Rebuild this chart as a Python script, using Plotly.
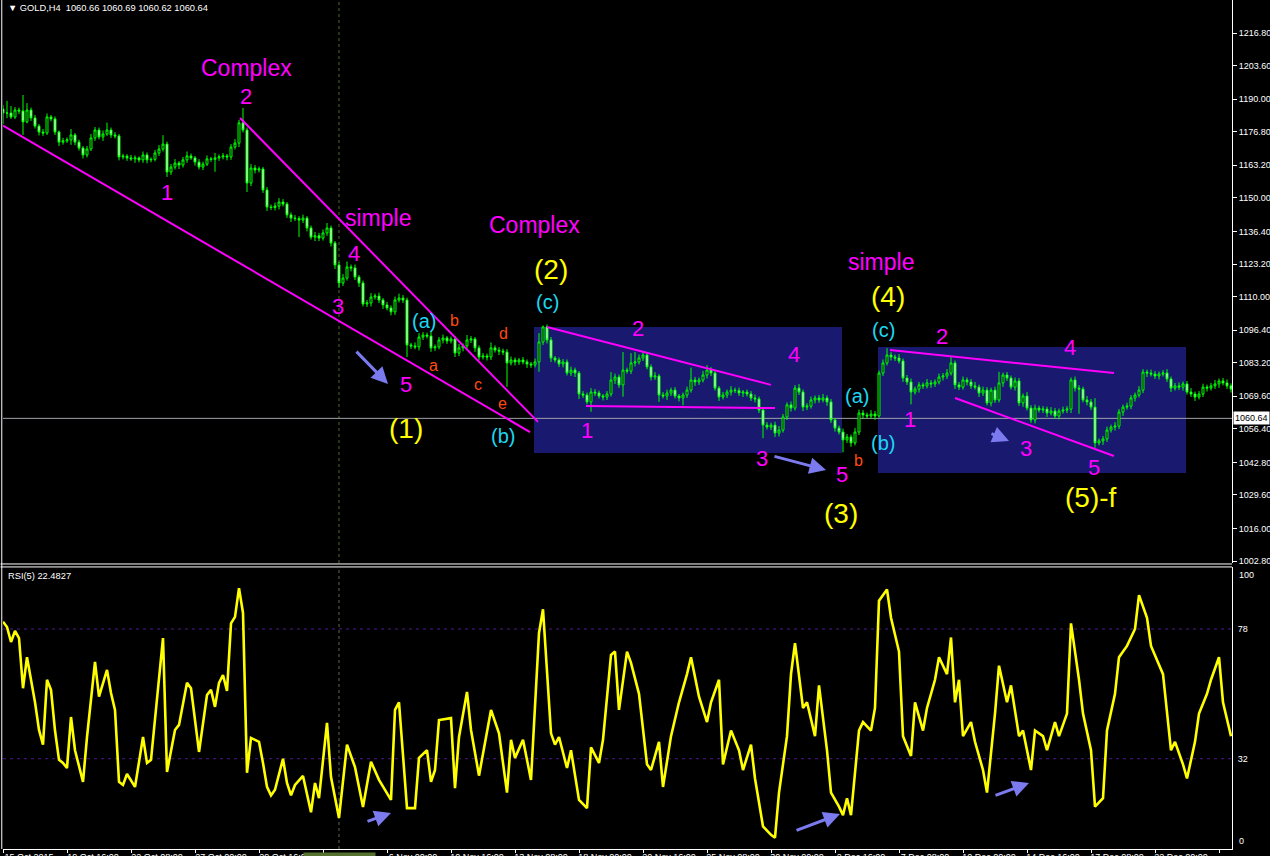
import plotly.graph_objects as go

# ---------------- data ----------------
closes = [
1184.4,1184.4,1182.8,1185.6,1185.2,1180.8,1185.6,1182.4,1179.1,1176.7,
1176.3,1182.8,1182.0,1176.7,1172.6,1173.1,1173.5,1175.5,1172.6,1170.2,
1167.4,1169.8,1174.3,1177.5,1174.7,1175.9,1177.5,1175.5,1175.1,1166.6,
1166.9,1166.2,1165.8,1166.2,1165.4,1167.4,1165.4,1165.6,1168.2,1169.8,
1171.8,1160.5,1162.5,1164.1,1163.3,1165.4,1167.0,1166.2,1164.5,1162.5,
1163.7,1165.8,1165.6,1166.2,1166.6,1167.0,1166.6,1170.6,1172.2,1180.4,
1177.5,1156.0,1162.1,1161.3,1161.7,1153.2,1146.3,1146.1,1146.7,1148.3,
1147.5,1143.1,1141.8,1141.6,1141.0,1141.8,1137.8,1134.1,1134.6,1133.7,
1135.8,1137.8,1131.7,1122.8,1115.5,1117.5,1122.0,1121.6,1117.9,1115.5,
1107.0,1107.4,1109.8,1110.2,1108.6,1106.6,1105.4,1103.8,1108.6,1109.4,
1108.6,1090.4,1090.0,1089.6,1093.6,1094.4,1094.0,1089.2,1089.6,1092.4,
1093.2,1092.0,1092.8,1087.1,1089.2,1090.0,1092.4,1092.8,1089.2,1085.5,
1085.9,1085.5,1089.2,1088.3,1087.9,1087.5,1083.1,1084.3,1083.5,1084.3,
1083.5,1082.7,1082.3,1083.5,1091.6,1097.7,1092.4,1085.1,1084.3,1082.7,
1083.5,1079.0,1080.2,1079.0,1070.5,1070.1,1067.3,1071.3,1070.9,1069.7,
1069.3,1070.5,1076.2,1077.4,1074.2,1080.2,1079.8,1083.1,1083.5,1085.1,
1086.3,1081.5,1077.4,1077.8,1070.1,1069.7,1070.9,1072.1,1069.7,1068.9,
1070.1,1072.1,1076.2,1075.4,1076.2,1078.2,1080.2,1079.0,1072.9,1069.3,
1070.1,1071.3,1072.1,1071.9,1070.9,1071.3,1070.5,1068.9,1068.5,1064.0,
1057.9,1057.1,1057.9,1054.7,1055.9,1061.2,1066.1,1064.8,1072.9,1071.3,
1065.2,1065.6,1068.1,1068.9,1068.1,1068.9,1067.3,1060.0,1056.7,1055.1,
1051.9,1053.1,1050.7,1055.1,1062.8,1062.0,1061.6,1062.4,1061.6,1079.0,
1083.1,1086.3,1085.5,1085.1,1083.9,1077.0,1075.4,1071.3,1072.5,1074.2,
1073.8,1075.0,1074.6,1075.4,1077.4,1077.8,1079.0,1083.1,1074.2,1073.3,
1076.2,1075.4,1073.8,1073.3,1070.9,1072.1,1066.9,1072.1,1068.1,1075.0,
1078.2,1077.0,1073.3,1075.8,1066.9,1069.7,1064.8,1060.0,1064.8,1064.0,
1064.4,1062.8,1063.6,1061.6,1063.6,1064.0,1064.4,1076.2,1072.9,1072.5,
1068.1,1067.3,1065.2,1050.7,1051.5,1052.3,1055.9,1057.1,1057.5,1063.2,
1065.2,1065.6,1068.9,1070.1,1072.1,1079.4,1079.0,1078.6,1077.8,1078.6,
1079.0,1076.6,1072.9,1073.8,1073.3,1074.6,1071.3,1070.5,1069.3,1070.5,
1073.3,1072.9,1073.8,1074.6,1075.8,1075.0,1073.8,1072.5]
first_open = 1186.0

# wick length above the body / below the body (price units)
wick_up = [
1.6,4.9,2.8,1.2,1.0,6.5,2.8,1.0,1.2,0.8,1.2,1.4,0.8,1.0,0.6,1.2,1.0,2.4,0.8,1.0,
0.8,1.2,1.6,1.2,1.0,1.4,3.0,1.0,1.2,0.8,1.0,0.8,1.2,1.0,0.6,1.4,1.0,0.8,1.2,1.6,
3.6,1.0,1.2,1.6,0.8,1.2,1.8,1.0,0.8,1.2,1.0,1.4,0.8,2.0,1.0,1.2,0.8,1.2,1.6,1.2,
6.0,1.0,1.6,1.2,1.0,0.8,1.2,1.0,1.4,1.6,1.2,0.8,1.0,1.2,1.0,1.4,0.8,1.0,1.6,1.2,
1.4,2.0,1.0,0.8,1.2,1.6,2.2,1.0,1.4,0.8,1.0,1.2,1.6,1.0,1.4,0.8,1.2,1.0,1.4,1.8,
1.2,1.0,0.8,1.4,1.6,1.2,1.0,2.0,1.0,1.2,1.4,0.8,1.0,1.2,1.6,1.0,2.0,1.2,0.8,1.0,
1.2,1.0,2.2,1.0,1.2,1.0,1.2,1.4,1.0,0.8,1.2,1.0,0.8,1.4,3.6,0.6,1.0,1.2,0.8,1.0,
1.2,1.0,1.4,1.0,0.8,1.2,1.0,1.6,1.2,1.0,0.8,1.2,3.2,1.4,1.0,7.3,1.0,4.0,4.0,1.4,
1.0,1.2,1.0,1.6,0.8,1.2,1.4,1.0,1.2,0.8,1.0,1.4,5.0,1.2,1.0,1.6,2.0,1.2,1.0,0.8,
1.2,1.0,1.6,1.0,1.2,0.8,1.0,1.2,1.4,1.0,0.8,1.2,1.0,1.4,1.6,1.2,1.0,1.4,1.2,1.6,
1.0,1.2,1.4,1.0,1.2,1.6,1.0,1.2,0.8,1.0,1.4,1.2,1.0,1.6,1.4,1.2,1.0,1.6,1.2,1.0,
1.4,2.8,1.2,1.0,1.6,1.0,1.2,1.4,1.0,1.2,1.0,1.6,1.2,1.0,1.4,1.2,1.6,2.4,1.0,1.2,
1.4,1.0,1.2,1.6,1.0,1.4,1.2,1.0,1.4,4.5,1.0,1.2,1.0,1.4,1.2,1.0,1.6,1.2,1.4,1.0,
1.2,1.0,1.6,1.2,1.0,1.4,1.2,1.0,1.4,1.2,1.0,1.6,1.2,3.6,1.0,1.2,1.4,1.0,1.6,1.2,
1.0,1.4,1.2,1.0,1.6,1.2,1.0,1.4,1.2,1.0,1.2,1.6,1.0,1.2,1.4,1.0,1.2,1.6,1.0,1.2,
1.4,1.0,1.2,1.6,1.0,1.2,1.4,1.0]
wick_dn = [
4.5,2.0,0.8,0.8,1.2,5.3,0.6,1.2,1.0,1.4,1.2,0.8,1.0,1.2,1.6,1.0,0.8,2.0,1.2,1.0,
1.4,1.0,0.8,1.2,1.0,1.6,0.8,1.2,1.0,1.4,1.0,1.2,0.8,1.6,1.0,1.2,1.4,1.0,0.8,1.2,
1.0,2.0,1.2,1.0,1.6,1.0,1.2,0.8,1.4,1.0,1.2,0.8,1.0,5.0,1.2,1.0,1.4,1.2,1.0,1.6,
1.0,3.6,1.2,1.4,1.0,1.2,1.6,1.0,1.2,1.4,1.0,1.2,1.6,1.0,6.9,1.2,1.4,1.0,1.6,1.2,
1.0,1.2,1.4,1.6,2.0,1.2,1.0,1.4,1.2,1.6,1.0,1.2,1.4,1.0,1.2,1.6,1.0,1.4,1.2,1.0,
1.2,4.9,1.2,1.0,1.4,1.2,1.0,1.6,1.2,1.0,1.4,1.2,1.0,1.6,1.2,1.4,1.0,1.2,1.6,1.2,
1.0,1.4,1.2,1.0,1.6,1.2,9.7,1.0,1.4,1.2,1.0,1.6,1.2,1.0,4.0,1.2,1.4,1.6,1.0,1.2,
1.4,1.0,1.2,1.6,2.0,1.2,1.0,4.0,1.2,1.0,1.4,1.2,1.0,1.6,1.2,4.8,1.0,1.2,1.4,1.0,
1.2,1.0,1.4,1.2,2.8,1.0,1.6,1.2,1.0,1.4,3.0,1.2,1.0,1.6,1.2,1.0,1.4,1.2,1.0,1.6,
1.0,1.2,1.4,1.0,1.2,1.6,1.0,1.2,1.4,1.2,5.3,1.0,1.2,1.6,1.4,1.0,1.2,1.4,1.0,1.2,
1.6,1.2,1.0,1.4,1.2,1.0,1.6,1.2,1.4,1.0,5.0,1.2,1.6,1.0,1.2,1.4,1.0,1.2,1.6,0.6,
1.2,1.0,1.4,1.2,1.0,1.6,1.2,5.0,1.0,1.4,1.2,1.0,1.6,1.2,1.0,1.4,1.2,1.0,1.6,1.2,
1.0,1.4,1.2,1.0,1.6,1.2,1.0,1.4,1.2,1.0,1.6,1.2,1.0,1.4,1.2,1.6,1.0,1.2,1.4,1.0,
1.2,1.6,1.0,1.2,1.4,1.0,1.2,1.6,1.4,10.0,1.0,1.4,1.2,2.0,1.0,1.6,1.2,1.0,1.4,1.2,
1.6,1.0,1.2,1.4,1.0,1.2,1.6,1.0,1.2,1.4,1.0,1.2,1.6,1.0,1.2,1.4,1.0,1.2,1.6,1.0,
1.2,1.4,1.0,1.2,1.6,1.0,1.2,1.4]

# RSI(5): (bar index, value) at the line's vertices
rsi_points = [
(0,80.6),(1,78.7),(2,73.4),(3,77.3),(4,74.8),(5,57.0),(6,68.0),(7,60.0),(8,52.0),(9,42.2),
(10,37.0),(11,60.0),(12,56.4),(13,42.0),(14,31.6),(15,30.5),(16,28.7),(17,46.8),(18,35.0),
(20,23.8),(21,39.7),(23,66.3),(24,54.0),(26,63.5),(27,55.3),(28,49.3),(29,23.8),(30,22.7),
(31,26.6),(33,22.0),(35,39.7),(36,30.5),(37,31.6),(40,74.8),(41,27.3),(43,42.2),(44,44.0),
(46,58.9),(47,57.0),(49,34.4),(51,54.6),(52,56.4),(53,50.4),(54,58.9),(55,61.7),(56,56.0),
(57,80.0),(58,82.3),(59,92.5),(60,83.7),(61,27.0),(62,39.4),(64,38.0),(65,30.5),(66,22.0),
(67,19.0),(68,21.0),(70,32.0),(71,23.4),(72,19.0),(73,22.7),(75,25.9),(77,13.0),(78,23.4),
(79,18.0),(81,44.7),(82,25.5),(84,11.0),(86,37.0),(88,29.0),(90,14.9),(92,30.9),(94,24.5),
(97,17.4),(98,49.3),(99,52.0),(100,34.0),(101,14.5),(103,14.5),(104,32.3),(106,35.0),
(107,23.8),(108,28.0),(109,45.7),(112,46.4),(113,21.6),(114,39.7),(116,55.7),(117,42.2),
(119,26.0),(122,49.3),(124,41.0),(126,20.0),(127,38.7),(128,32.3),(130,38.7),(132,24.5),
(134,76.6),(135,85.0),(137,41.0),(138,37.0),(139,39.7),(141,28.7),(142,35.0),(144,17.4),
(146,14.5),(147,36.0),(149,30.5),(150,38.7),(152,68.8),(153,70.0),(154,49.3),
(156,70.0),(157,66.0),(159,55.0),(161,30.0),(162,28.0),(164,38.0),(165,22.0),(167,40.0),
(169,52.0),(171,62.0),(172,68.0),(174,54.0),(176,45.0),(177,52.0),(179,60.0),(180,30.0),
(182,42.0),(184,35.0),(185,28.0),(187,37.0),(188,25.0),(190,8.0),(192,5.0),(193,4.0),
(194,20.0),(196,40.0),(197,62.0),(198,73.0),(200,50.0),(201,52.0),(203,40.0),(204,58.0),
(206,35.0),(207,20.0),(209,15.0),(210,12.0),(211,18.0),(212,12.0),(214,42.0),(215,45.0),
(217,42.0),(218,50.0),(219,88.0),(221,92.0),(222,82.0),(224,70.0),(225,40.0),(227,33.0),
(228,52.0),(230,42.0),(231,50.0),(233,60.0),(234,68.0),(236,62.0),(237,75.0),(238,52.0),
(239,60.0),(240,40.0),(242,45.0),(243,38.0),(245,28.0),(246,20.0),(248,48.0),(249,65.0),
(251,52.0),(252,58.0),(254,40.0),(255,42.0),(257,28.0),(258,42.0),(260,40.0),(261,35.0),
(263,45.0),(264,40.0),(266,48.0),(267,80.0),(269,60.0),(270,48.0),(272,35.0),(273,15.0),
(275,18.0),(276,42.0),(278,55.0),(279,68.0),(281,72.0),(283,78.0),(284,90.0),(286,82.0),
(287,72.0),(289,65.0),(290,62.0),(292,35.0),(293,38.0),(295,30.0),(296,25.0),(298,38.0),
(299,48.0),(301,55.0),(302,60.0),(304,68.0),(305,52.0),(307,40.0)]

price_ticks = [1002.80, 1016.00, 1029.60, 1042.80, 1056.40, 1069.60, 1083.20, 1096.40, 1110.00,
               1123.20, 1136.40, 1150.00, 1163.20, 1176.80, 1190.00, 1203.60, 1216.80]
rsi_levels = [32, 78]
bid_price = 1060.64
time_tick_bars = [0, 16, 32, 48, 64, 80, 96, 112, 128, 144, 160, 176, 192, 208, 224, 240, 256, 272, 288, 304]
time_tick_labels = ["15 Oct 2015", "19 Oct 16:00", "22 Oct 08:00", "27 Oct 00:00", "29 Oct 16:00",
                    "3 Nov 08:00", "6 Nov 00:00", "10 Nov 16:00", "13 Nov 08:00", "18 Nov 00:00",
                    "20 Nov 16:00", "25 Nov 08:00", "30 Nov 00:00", "2 Dec 16:00", "7 Dec 08:00",
                    "10 Dec 00:00", "14 Dec 16:00", "17 Dec 08:00", "22 Dec 00:00", "24 Dec 16:00"]
cursor_bar = 84
cursor_label = "2015.11.04 00:00"

# wave labels: (text, bar, price, colour, size)
MAG, YEL, CYA, ORA = "#FF00FF", "#FFFF00", "#1ED6F0", "#FF4A10"
wave_labels = [
    ("Complex", 60.75, 1202.6, MAG, 23), ("2", 60.75, 1190.9, MAG, 22), ("1", 41.0, 1152.0, MAG, 22),
    ("simple", 93.75, 1141.8, MAG, 23), ("4", 87.75, 1127.3, MAG, 22), ("3", 83.75, 1105.8, MAG, 22),
    ("5", 100.75, 1074.2, MAG, 22), ("Complex", 132.75, 1139.0, MAG, 23), ("2", 158.75, 1096.9, MAG, 22),
    ("4", 197.75, 1086.7, MAG, 22), ("1", 146.0, 1055.9, MAG, 22), ("3", 189.75, 1044.2, MAG, 22),
    ("5", 209.75, 1037.7, MAG, 22), ("simple", 219.5, 1124.0, MAG, 23), ("2", 234.75, 1094.0, MAG, 22),
    ("4", 266.75, 1089.2, MAG, 22), ("1", 226.75, 1060.0, MAG, 22), ("3", 255.75, 1048.6, MAG, 22),
    ("5", 272.75, 1040.9, MAG, 22),
    ("(2)", 137.0, 1120.8, YEL, 28), ("(4)", 221.25, 1110.2, YEL, 28), ("(1)", 100.75, 1056.7, YEL, 28),
    ("(3)", 209.5, 1021.9, YEL, 28), ("(5)-f", 272.0, 1028.4, YEL, 28),
    ("(c)", 136.0, 1107.8, CYA, 20), ("(a)", 105.25, 1100.1, CYA, 20), ("(b)", 125.0, 1053.5, CYA, 20),
    ("(a)", 213.5, 1069.7, CYA, 20), ("(b)", 220.0, 1050.7, CYA, 20), ("(c)", 220.0, 1096.5, CYA, 20),
    ("b", 112.75, 1100.5, ORA, 16), ("d", 125.0, 1095.2, ORA, 16), ("a", 107.5, 1081.9, ORA, 16),
    ("c", 118.75, 1074.2, ORA, 16), ("e", 124.75, 1066.5, ORA, 16), ("b", 213.75, 1043.4, ORA, 16),
]
# trend lines: (bar0, price0, bar1, price1)
trend_lines = [
    (0.0, 1179.3, 131.75, 1055.1), (59.25, 1182.4, 133.75, 1059.2),
    (136.0, 1097.7, 192.0, 1074.2), (145.75, 1065.6, 193.0, 1064.8),
    (221.75, 1088.3, 277.75, 1079.0), (238.0, 1068.9, 277.75, 1045.4),
]
# boxes: (bar0, bar1, price_low, price_high)
boxes = [(132.75, 209.75, 1046.6, 1097.7), (218.75, 295.75, 1038.5, 1089.6)]
# arrows in price pane: (tail bar, tail price, head bar, head price)
price_arrows = [(88.0, 1088.3, 96.25, 1074.6), (192.5, 1045.4, 205.75, 1039.7), (246.75, 1054.7, 251.5, 1051.5)]
rsi_arrows = [(90.75, 9.6, 97.0, 12.8), (198.0, 6.4, 209.25, 12.4), (247.75, 18.8, 256.5, 23.4)]

# ---------------- build ----------------
n = len(closes)
bars = list(range(n))
opens = [first_open] + closes[:-1]
highs = [max(o, c) + u for o, c, u in zip(opens, closes, wick_up)]
lows = [min(o, c) - d for o, c, d in zip(opens, closes, wick_dn)]
rsi_x = [p[0] for p in rsi_points]
rsi_y = [p[1] for p in rsi_points]

FONT = "Liberation Sans, Arial, sans-serif"
XR = [0, 307.25]
PRICE_DOM = [0.3376, 1.0]
RSI_DOM = [0.0012, 0.333]

fig = go.Figure()
fig.add_trace(go.Candlestick(
    x=bars, open=opens, high=highs, low=lows, close=closes, xaxis="x", yaxis="y",
    increasing=dict(line=dict(color="#00FF00", width=1), fillcolor="#000000"),
    decreasing=dict(line=dict(color="#00FF00", width=1), fillcolor="#FFFFFF"),
    whiskerwidth=0, showlegend=False, hoverinfo="skip"))
fig.add_trace(go.Scatter(x=rsi_x, y=rsi_y, xaxis="x2", yaxis="y2", mode="lines",
                         line=dict(color="#FFFF00", width=2.6), showlegend=False, hoverinfo="skip"))

shapes = []
for b0, b1, lo, hi in boxes:
    shapes.append(dict(type="rect", xref="x", yref="y", x0=b0, x1=b1, y0=lo, y1=hi,
                       fillcolor="#191970", line=dict(width=0), layer="below"))
shapes.append(dict(type="line", xref="x", yref="y", x0=XR[0], x1=XR[1], y0=bid_price, y1=bid_price,
                   line=dict(color="#A0A0A8", width=1), layer="below"))
shapes.append(dict(type="line", xref="x", yref="paper", x0=cursor_bar, x1=cursor_bar,
                   y0=PRICE_DOM[0], y1=PRICE_DOM[1], line=dict(color="#4E6B2A", width=1, dash="3px,3px"), layer="below"))
shapes.append(dict(type="line", xref="x2", yref="paper", x0=cursor_bar, x1=cursor_bar,
                   y0=RSI_DOM[0], y1=RSI_DOM[1], line=dict(color="#5E6B45", width=1, dash="3px,3px"), layer="below"))
for lv in rsi_levels:
    shapes.append(dict(type="line", xref="x2", yref="y2", x0=XR[0], x1=XR[1], y0=lv, y1=lv,
                       line=dict(color="#4B1A8A", width=1, dash="3px,4px"), layer="below"))
for b0, p0, b1, p1 in trend_lines:
    shapes.append(dict(type="line", xref="x", yref="y", x0=b0, y0=p0, x1=b1, y1=p1,
                       line=dict(color=MAG, width=2)))
# window frame lines
shapes.append(dict(type="line", xref="paper", yref="paper", x0=-0.001, x1=-0.001, y0=RSI_DOM[0], y1=1.0,
                   line=dict(color="#FFFFFF", width=1)))
for yy in (0.3365, 0.3330):
    shapes.append(dict(type="line", xref="paper", yref="paper", x0=-0.002, x1=1.0, y0=yy, y1=yy,
                       line=dict(color="#FFFFFF", width=1)))

ann = []
for txt, bx, py, col, sz in wave_labels:
    ann.append(dict(text=txt, x=bx, y=py, xref="x", yref="y", showarrow=False,
                    font=dict(family=FONT, size=sz, color=col), xanchor="center", yanchor="middle"))
for tb, tp, hb, hp in price_arrows:
    ann.append(dict(x=hb, y=hp, ax=tb, ay=tp, xref="x", yref="y", axref="x", ayref="y", text="",
                    showarrow=True, arrowhead=2, arrowsize=1.1, arrowwidth=3, arrowcolor="#7B7BEF"))
for tb, tp, hb, hp in rsi_arrows:
    ann.append(dict(x=hb, y=hp, ax=tb, ay=tp, xref="x2", yref="y2", axref="x2", ayref="y2", text="",
                    showarrow=True, arrowhead=2, arrowsize=1.1, arrowwidth=3, arrowcolor="#7B7BEF"))
ann.append(dict(text="\u25BC\u00a0GOLD,H4\u00a0\u00a01060.66\u00a01060.69\u00a01060.62\u00a01060.64",
                xref="paper", yref="paper", x=0, y=1, xanchor="left", yanchor="top", xshift=3, yshift=-1,
                showarrow=False, font=dict(family=FONT, size=9.3, color="#FFFFFF")))
ann.append(dict(text="RSI(5)\u00a022.4827", xref="paper", yref="paper", x=0, y=RSI_DOM[1],
                xanchor="left", yanchor="top", xshift=3, yshift=-2,
                showarrow=False, font=dict(family=FONT, size=9.3, color="#FFFFFF")))
ann.append(dict(text=f"{bid_price:.2f}", xref="paper", yref="y", x=1, y=bid_price, xanchor="left",
                yanchor="middle", xshift=1, showarrow=False, bgcolor="#FFFFFF", borderpad=1,
                font=dict(family=FONT, size=9, color="#000000")))
ann.append(dict(text="1230.40", xref="paper", yref="y", x=1, y=1230.4, xanchor="left", yanchor="middle",
                xshift=6, showarrow=False, font=dict(family=FONT, size=9, color="#FFFFFF")))
ann.append(dict(text="100", xref="paper", yref="y2", x=1, y=100, xanchor="left", yanchor="top",
                xshift=5, yshift=-1, showarrow=False, font=dict(family=FONT, size=9, color="#FFFFFF")))
ann.append(dict(text="0", xref="paper", yref="y2", x=1, y=0, xanchor="left", yanchor="bottom",
                xshift=5, yshift=1, showarrow=False, font=dict(family=FONT, size=9, color="#FFFFFF")))
ann.append(dict(text=cursor_label, xref="x2", yref="paper", x=cursor_bar, y=0, xanchor="center",
                yanchor="top", yshift=-2, showarrow=False, bgcolor="#55702F", borderpad=1,
                font=dict(family=FONT, size=9, color="#1A1A1A")))

fig.update_layout(
    template="none", width=1270, height=856,
    margin=dict(l=3, r=38, t=0, b=6, pad=0),
    paper_bgcolor="#000000", plot_bgcolor="#000000", showlegend=False,
    shapes=shapes, annotations=ann, boxgap=0.3,
    xaxis=dict(domain=[0, 1], range=XR, anchor="y", showticklabels=False, showgrid=False,
               zeroline=False, showline=False, ticks="", rangeslider=dict(visible=False), automargin=False),
    yaxis=dict(domain=PRICE_DOM, range=[1002.0, 1230.2], anchor="x", side="right", showline=True,
               linecolor="#FFFFFF", linewidth=1, ticks="outside", ticklen=4, tickcolor="#FFFFFF",
               tickvals=price_ticks, ticktext=[f"{v:.2f}" for v in price_ticks],
               tickfont=dict(family=FONT, size=9, color="#FFFFFF"), showgrid=False, zeroline=False,
               automargin=False),
    xaxis2=dict(domain=[0, 1], range=XR, anchor="y2", showline=True, linecolor="#FFFFFF", linewidth=1,
                ticks="outside", ticklen=3, tickcolor="#FFFFFF", tickvals=time_tick_bars,
                ticktext=time_tick_labels, tickfont=dict(family=FONT, size=9, color="#FFFFFF"),
                ticklabelshift=26, ticklabelstandoff=-4, showgrid=False, zeroline=False, automargin=False),
    yaxis2=dict(domain=RSI_DOM, range=[0, 100], anchor="x2", side="right", showline=True,
                linecolor="#FFFFFF", linewidth=1, ticks="outside", ticklen=3, tickcolor="#000000",
                tickvals=rsi_levels, ticktext=[str(v) for v in rsi_levels],
                tickfont=dict(family=FONT, size=9, color="#FFFFFF"), showgrid=False, zeroline=False,
                automargin=False),
)

fig.write_html(
    "out.html",
    config={"displayModeBar": False},
    post_script="document.body.style.margin='0px';document.body.style.padding='0px';"
                "document.body.style.background='#000000';document.documentElement.style.overflow='hidden';",
)
